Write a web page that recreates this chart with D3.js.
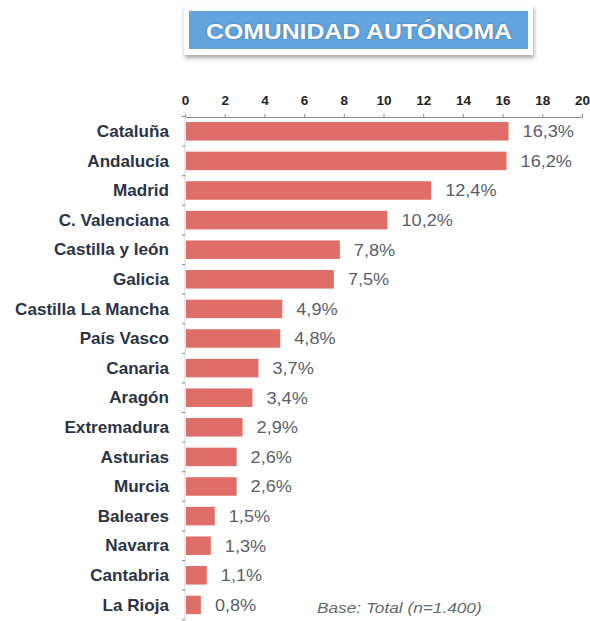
<!DOCTYPE html>
<html>
<head>
    <meta charset="utf-8">
    <title>Comunidad Autónoma</title>
    <style type="text/css">
        body { margin: 0; background: #fff; }
        svg { display: block; }
    </style>
</head>
<body>
    <svg class="chart"></svg>

    <script src="https://cdn.jsdelivr.net/npm/d3@7"></script>
    <script type="text/javascript">
        // 数据
        var regions = ["Cataluña", "Andalucía", "Madrid", "C. Valenciana", "Castilla y león", "Galicia",
            "Castilla La Mancha", "País Vasco", "Canaria", "Aragón", "Extremadura", "Asturias",
            "Murcia", "Baleares", "Navarra", "Cantabria", "La Rioja"];
        var values = [16.3, 16.2, 12.4, 10.2, 7.8, 7.5, 4.9, 4.8, 3.7, 3.4, 2.9, 2.6, 2.6, 1.5, 1.3, 1.1, 0.8];
        var xTicks = [0, 2, 4, 6, 8, 10, 12, 14, 16, 18, 20];
        var title = "COMUNIDAD AUTÓNOMA";
        var note = "Base: Total (n=1.400)";

        var width = 590
        var height = 621
        var fmt = d3.format(".1f")

        var svg = d3.select("svg.chart")
            .attr("width", width)
            .attr("height", height)
            .style("font-family", "'Liberation Sans', Arial, sans-serif");

        // 比例尺
        var x = d3.scaleLinear().domain([0, 20]).range([185, 582]);
        var y = d3.scaleBand().domain(regions)
            .range([116.5, 619.7])
            .paddingInner(0.375)
            .paddingOuter(0.1875);

        // 标题框阴影
        var shadow = svg.append("defs").append("filter")
            .attr("id", "shadow")
            .attr("x", "-10%").attr("y", "-30%")
            .attr("width", "120%").attr("height", "170%");
        shadow.append("feDropShadow")
            .attr("dx", 1).attr("dy", 3)
            .attr("stdDeviation", 2)
            .attr("flood-opacity", 0.35);

        svg.append("rect")
            .attr("x", 184).attr("y", 5)
            .attr("width", 349).attr("height", 50)
            .attr("fill", "#fff")
            .attr("filter", "url(#shadow)");

        svg.append("rect")
            .attr("x", 189).attr("y", 11)
            .attr("width", 339).attr("height", 38)
            .attr("fill", "#62a5de");

        svg.append("text")
            .attr("x", 359).attr("y", 39)
            .attr("text-anchor", "middle")
            .attr("fill", "#fff")
            .attr("font-size", 22)
            .attr("font-weight", "bold")
            .attr("textLength", 306)
            .attr("lengthAdjust", "spacingAndGlyphs")
            .style("text-shadow", "0 0 2px rgba(40,80,120,0.6)")
            .text(title);

        // 顶部坐标轴
        var xAxis = svg.append("g")
            .attr("transform", "translate(0,117)")
            .call(d3.axisTop(x).tickValues(xTicks).tickSize(3).tickSizeOuter(0).tickPadding(9));
        xAxis.select(".domain").attr("stroke", "#8a8a8a");
        xAxis.selectAll(".tick line").attr("stroke", "#8a8a8a");
        xAxis.selectAll(".tick text")
            .attr("fill", "#222")
            .attr("font-size", 13.5)
            .attr("font-weight", "bold")
            .attr("font-family", "'Liberation Sans', Arial, sans-serif");

        // 左侧纵轴及刻度
        svg.append("line")
            .attr("x1", x(0)).attr("x2", x(0))
            .attr("y1", y.range()[0]).attr("y2", y.range()[1])
            .attr("stroke", "#d6d6d6");

        svg.append("g").selectAll("line")
            .data(d3.range(regions.length + 1))
            .join("line")
            .attr("x1", x(0) - 3).attr("x2", x(0))
            .attr("y1", k => y.range()[0] + k * y.step())
            .attr("y2", k => y.range()[0] + k * y.step())
            .attr("stroke", "#6f8a90");

        // 柱子
        svg.append("g").selectAll("rect")
            .data(regions)
            .join("rect")
            .attr("x", x(0) + 1)
            .attr("y", d => y(d))
            .attr("width", (d, i) => x(values[i]) - x(0) - 1)
            .attr("height", y.bandwidth())
            .attr("fill", "#df6e68");

        // 地区标签
        svg.append("g").selectAll("text")
            .data(regions)
            .join("text")
            .attr("transform", d => `translate(169,${y(d) + y.bandwidth() / 2}) scale(1.07,1)`)
            .attr("dy", "0.36em")
            .attr("text-anchor", "end")
            .attr("font-size", 16)
            .attr("font-weight", "bold")
            .attr("fill", "#2c3444")
            .text(d => d);

        // 数值标签
        svg.append("g").selectAll("text")
            .data(regions)
            .join("text")
            .attr("transform", (d, i) => `translate(${x(values[i]) + 14},${y(d) + y.bandwidth() / 2}) scale(1.1,1)`)
            .attr("dy", "0.36em")
            .attr("font-size", 16.5)
            .attr("fill", "#5b606c")
            .text((d, i) => fmt(values[i]).replace(".", ",") + "%");

        // 注释
        svg.append("text")
            .attr("transform", "translate(317,613) scale(1.15,1)")
            .attr("font-size", 15)
            .attr("font-style", "italic")
            .attr("fill", "#666a72")
            .text(note);
    </script>
</body>
</html>
